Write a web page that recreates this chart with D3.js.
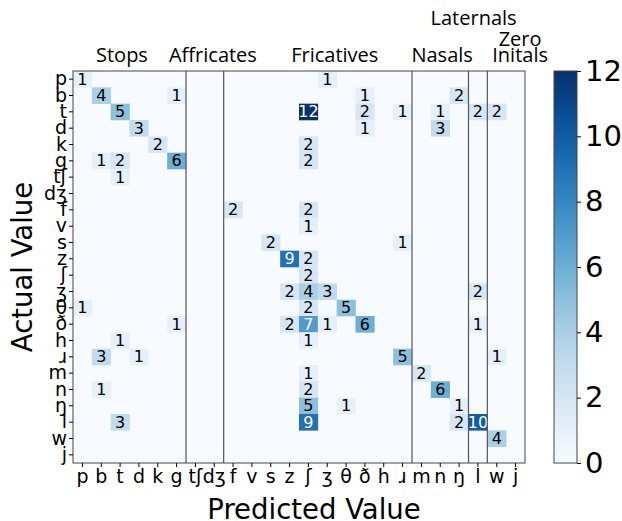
<!DOCTYPE html>
<html lang="en">
<head>
  <meta charset="UTF-8" />
  <title>Confusion Matrix</title>
  <script src="https://cdn.jsdelivr.net/npm/d3@7/dist/d3.min.js"></script>
  <style>
    body { margin: 0; background: #fff; }
    svg { display: block; }
    .tick text { font-family: "DejaVu Sans", sans-serif; fill: #000; }
    .group-title { font-family: "Open Sans", "Noto Sans", sans-serif; font-size: 20px; fill: #000; }
    .axis-title { font-family: "DejaVu Sans", sans-serif; font-size: 27.5px; fill: #000; }
  </style>
</head>
<body>
  <div id="chart"></div>
  <script>
    // phoneme categories (rows = actual, cols = predicted)
    const phonemes = ["p","b","t","d","k","g","tʃ","dʒ","f","v","s","z","ʃ","ʒ","θ","ð","h","ɹ","m","n","ŋ","l","w","j"];

    // non-zero cells: [actual, predicted, count]
    const cells = [
      ["p","p",1],["p","ʒ",1],
      ["b","b",4],["b","g",1],["b","ð",1],["b","ŋ",2],
      ["t","t",5],["t","ʃ",12],["t","ð",2],["t","ɹ",1],["t","n",1],["t","l",2],["t","w",2],
      ["d","d",3],["d","ð",1],["d","n",3],
      ["k","k",2],["k","ʃ",2],
      ["g","b",1],["g","t",2],["g","g",6],["g","ʃ",2],
      ["tʃ","t",1],
      ["f","f",2],["f","ʃ",2],
      ["v","ʃ",1],
      ["s","s",2],["s","ɹ",1],
      ["z","z",9],["z","ʃ",2],
      ["ʃ","ʃ",2],
      ["ʒ","z",2],["ʒ","ʃ",4],["ʒ","ʒ",3],["ʒ","l",2],
      ["θ","p",1],["θ","ʃ",2],["θ","θ",5],
      ["ð","g",1],["ð","z",2],["ð","ʃ",7],["ð","ʒ",1],["ð","ð",6],["ð","l",1],
      ["h","t",1],["h","ʃ",1],
      ["ɹ","b",3],["ɹ","d",1],["ɹ","ɹ",5],["ɹ","w",1],
      ["m","ʃ",1],["m","m",2],
      ["n","b",1],["n","ʃ",2],["n","n",6],
      ["ŋ","ʃ",5],["ŋ","θ",1],["ŋ","ŋ",1],
      ["l","t",3],["l","ʃ",9],["l","ŋ",2],["l","l",10],
      ["w","w",4]
    ];

    // manner groups: title lines, first phoneme of the group
    const groupNames = [["Stops"], ["Affricates"], ["Fricatives"], ["Nasals"], ["Laternals"], ["Zero", "Initals"]];
    const groupStarts = ["p", "tʃ", "f", "m", "l", "w"];
    // where each title sits, in column units
    const groupLabelAt = [2.6, 7.43, 13.9, 19.6, 21.27, 23.74];
    const colorTicks = [0, 2, 4, 6, 8, 10, 12];

    const W = 622, H = 521;
    const m = { left: 73, top: 71, right: 97, bottom: 58 };
    const pw = W - m.left - m.right, ph = H - m.top - m.bottom;

    const svg = d3.select("#chart").append("svg").attr("width", W).attr("height", H);

    const x = d3.scaleBand().domain(phonemes).range([m.left, m.left + pw]);
    const y = d3.scaleBand().domain(phonemes).range([m.top, m.top + ph]);
    const vmax = d3.max(colorTicks);
    const color = d3.scaleSequential(d3.interpolateBlues).domain([0, vmax]);
    const colUnit = d3.scaleLinear().domain([0, phonemes.length]).range([m.left, m.left + pw]);

    // background = zero cells
    svg.append("rect")
      .attr("x", m.left).attr("y", m.top).attr("width", pw).attr("height", ph)
      .attr("fill", color(0));

    const g = svg.append("g");
    g.selectAll("rect.cell").data(cells).enter().append("rect")
      .attr("class", "cell")
      .attr("x", d => x(d[1])).attr("y", d => y(d[0]))
      .attr("width", x.bandwidth() + 0.3).attr("height", y.bandwidth() + 0.3)
      .attr("fill", d => color(d[2]));

    g.selectAll("text.val").data(cells).enter().append("text")
      .attr("class", "val")
      .attr("x", d => x(d[1]) + x.bandwidth() / 2)
      .attr("y", d => y(d[0]) + y.bandwidth() / 2)
      .attr("text-anchor", "middle").attr("dominant-baseline", "central")
      .attr("font-family", "DejaVu Sans, sans-serif").attr("font-size", 16)
      .attr("fill", d => d[2] > vmax / 2 ? "#fff" : "#000")
      .text(d => d[2]);

    // separators between manner groups
    svg.selectAll("line.sep").data(groupStarts.slice(1)).enter().append("line")
      .attr("class", "sep")
      .attr("x1", d => x(d)).attr("x2", d => x(d))
      .attr("y1", m.top).attr("y2", m.top + ph)
      .attr("stroke", "#555").attr("stroke-width", 1.2);

    // frame
    svg.append("rect")
      .attr("x", m.left).attr("y", m.top).attr("width", pw).attr("height", ph)
      .attr("fill", "none").attr("stroke", "#444").attr("stroke-width", 1);

    // axes
    const xAxis = svg.append("g").attr("transform", `translate(0,${m.top + ph})`)
      .call(d3.axisBottom(x).tickSize(4).tickPadding(3));
    xAxis.selectAll("text").attr("font-size", 19);
    xAxis.select(".domain").remove();

    const yAxis = svg.append("g").attr("transform", `translate(${m.left},0)`)
      .call(d3.axisLeft(y).tickSize(4).tickPadding(2));
    yAxis.selectAll("text").attr("font-size", 19);
    yAxis.select(".domain").remove();

    svg.append("text").attr("class", "axis-title")
      .attr("x", 314).attr("y", 519)
      .attr("text-anchor", "middle").text("Predicted Value");

    svg.append("text").attr("class", "axis-title")
      .attr("transform", `translate(32,${m.top + ph / 2}) rotate(-90)`)
      .attr("text-anchor", "middle").text("Actual Value");

    // group titles
    groupNames.forEach((lines, i) => {
      const t = svg.append("text").attr("class", "group-title")
        .attr("x", colUnit(groupLabelAt[i])).attr("text-anchor", "middle");
      const baseY = i === 4 ? 25 : 62;
      lines.forEach((s, j) => {
        t.append("tspan").attr("x", colUnit(groupLabelAt[i]))
          .attr("y", baseY - (lines.length - 1 - j) * 16).text(s);
      });
    });

    // colorbar
    const cbX = 554, cbW = 23;
    const defs = svg.append("defs");
    const grad = defs.append("linearGradient").attr("id", "cb")
      .attr("x1", 0).attr("y1", 1).attr("x2", 0).attr("y2", 0);
    d3.range(0, 1.0001, 0.05).forEach(t => {
      grad.append("stop").attr("offset", t).attr("stop-color", d3.interpolateBlues(t));
    });
    svg.append("rect").attr("x", cbX).attr("y", m.top).attr("width", cbW).attr("height", ph)
      .attr("fill", "url(#cb)").attr("stroke", "#444").attr("stroke-width", 1);
    const cbScale = d3.scaleLinear().domain([0, vmax]).range([m.top + ph, m.top]);
    const cbAxis = svg.append("g").attr("transform", `translate(${cbX + cbW},0)`)
      .call(d3.axisRight(cbScale).tickValues(colorTicks).tickSize(4).tickPadding(4));
    cbAxis.selectAll("text").attr("font-size", 29);
    cbAxis.select(".domain").remove();
  </script>
</body>
</html>
